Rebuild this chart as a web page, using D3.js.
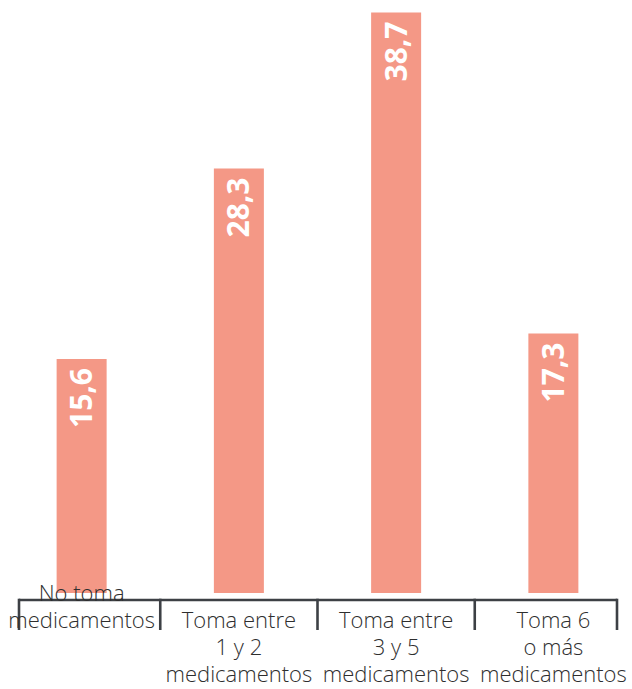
<!DOCTYPE html>
<html>
<head>
<meta charset="utf-8">
<script src="https://cdn.jsdelivr.net/npm/d3@7"></script>
<style>
  html, body { margin: 0; padding: 0; background: #ffffff; }
  svg { display: block; }
</style>
</head>
<body>
<svg id="chart" width="632" height="689"></svg>
<script>
// Share of people by number of medicines taken (%)
const categories = [
  "No toma medicamentos",
  "Toma entre 1 y 2 medicamentos",
  "Toma entre 3 y 5 medicamentos",
  "Toma 6 o más medicamentos"
];
const categoryLines = [
  ["No toma", "medicamentos"],
  ["Toma entre", "1 y 2", "medicamentos"],
  ["Toma entre", "3 y 5", "medicamentos"],
  ["Toma 6", "o más", "medicamentos"]
];
const values = [15.6, 28.3, 38.7, 17.3];

const W = 632, H = 689;
const barColor = "#f49886";
const axisColor = "#3d4045";
const textColor = "#2e2e2e";

const esES = d3.formatLocale({ decimal: ",", thousands: ".", grouping: [3], currency: ["", " €"] });
const fmt = esES.format(".1f");

const svg = d3.select("#chart");

const x = d3.scaleBand()
  .domain(categories)
  .range([3, 632])
  .paddingInner(0)
  .paddingOuter(0);

const y = d3.scaleLinear()
  .domain([0, 38.7])
  .range([593, 12.5]);

const barW = 50;
const data = categories.map((c, i) => ({ cat: c, value: values[i], lines: categoryLines[i] }));
const cx = d => x(d.cat) + x.bandwidth() / 2;

// Bars
svg.append("g")
  .selectAll("rect")
  .data(data)
  .join("rect")
  .attr("x", d => cx(d) - barW / 2)
  .attr("y", d => y(d.value))
  .attr("width", barW)
  .attr("height", d => y(0) - y(d.value))
  .attr("fill", barColor);

// Value labels, rotated inside the top of each bar
svg.append("g")
  .selectAll("text")
  .data(data)
  .join("text")
  .attr("transform", d => `translate(${cx(d)},${y(d.value) + 9}) rotate(-90)`)
  .attr("dy", "0.35em")
  .attr("text-anchor", "end")
  .attr("font-family", "'Open Sans', sans-serif")
  .attr("font-weight", 700)
  .attr("font-size", 30)
  .attr("fill", "#ffffff")
  .text(d => fmt(d.value));

// Category axis with dividers
const axisY = 600;
const [r0, r1] = x.range();
const dividers = [r0 + 16, ...categories.slice(1).map(c => x(c)), r1 - 15];
const axis = svg.append("g").attr("stroke", axisColor).attr("stroke-width", 2.6);
axis.append("line")
  .attr("x1", dividers[0]).attr("x2", dividers[dividers.length - 1])
  .attr("y1", axisY).attr("y2", axisY);
axis.selectAll("line.div")
  .data(dividers)
  .join("line")
  .attr("class", "div")
  .attr("x1", d => d).attr("x2", d => d)
  .attr("y1", axisY - 1.3).attr("y2", axisY + 30);

// Category labels
const lineH = 27;
const firstBase = 628;
const labels = svg.append("g")
  .attr("font-family", "'Open Sans', sans-serif")
  .attr("font-weight", 300)
  .attr("font-size", 22)
  .attr("fill", textColor)
  .attr("text-anchor", "middle");
labels.selectAll("text")
  .data(data)
  .join("text")
  .each(function (d) {
    const start = d.lines.length < 3 ? -1 : 0;
    d3.select(this).selectAll("tspan")
      .data(d.lines)
      .join("tspan")
      .attr("x", cx(d))
      .attr("y", (l, j) => firstBase + (start + j) * lineH)
      .text(l => l);
  });
</script>
</body>
</html>
